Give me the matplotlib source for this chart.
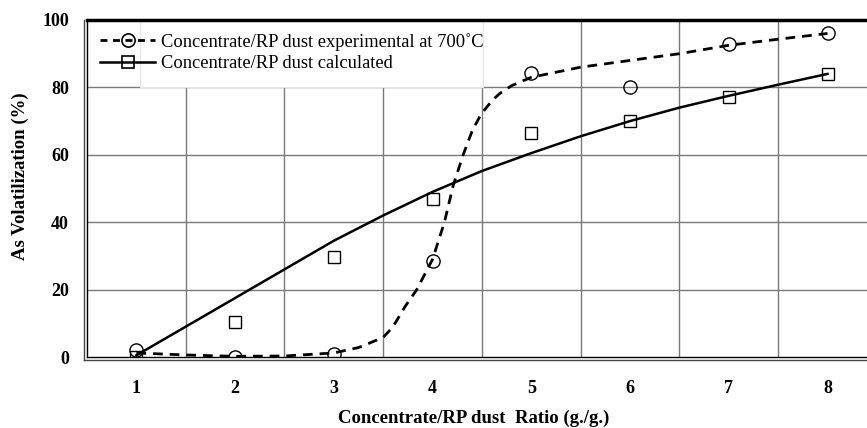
import matplotlib
matplotlib.use("Agg")
import matplotlib.pyplot as plt
from matplotlib.patches import Rectangle
from matplotlib.lines import Line2D

plt.rcParams['font.family'] = ['Liberation Serif', 'DejaVu Serif']

# measured points
ratio = [1, 2, 3, 4, 5, 6, 7, 8]
experimental = [2.0, 0.0, 0.8, 28.4, 84.2, 80.0, 92.8, 96.0]
calculated = [0.0, 10.4, 29.6, 47.0, 66.6, 70.1, 77.2, 84.0]

# fitted curves
exp_curve_x = [1, 1.5, 2, 2.5, 3, 3.25, 3.5, 3.6, 3.72, 3.84, 4.0, 4.12, 4.21,
               4.31, 4.4, 4.49, 4.6, 4.68, 4.8, 5.0, 5.5, 6, 6.5, 7, 7.5, 8]
exp_curve_y = [1.2, 0.6, 0.2, 0.3, 1.2, 2.8, 5.8, 9.0, 14.9, 20.0, 29.0, 40.0, 51.0,
               60.0, 67.0, 72.0, 76.0, 78.2, 80.5, 83.0, 86.0, 88.0, 90.0, 92.5, 94.3, 96.0]
calc_curve_x = [1, 1.5, 2, 2.5, 3, 3.5, 4, 4.5, 5, 5.5, 6, 6.5, 7, 7.5, 8]
calc_curve_y = [0.5, 9.0, 17.5, 26.0, 34.5, 42.0, 49.0, 55.2, 60.5, 65.5, 70.0, 74.0, 77.5, 80.8, 84.0]

xticks = [1, 2, 3, 4, 5, 6, 7, 8]
yticks = [0, 20, 40, 60, 80, 100]
label_exp = "Concentrate/RP dust experimental at 700\u02daC"
label_calc = "Concentrate/RP dust calculated"
xlabel = "Concentrate/RP dust  Ratio (g./g.)"
ylabel = "As Volatilization (%)"

fig = plt.figure(figsize=(8.67, 4.28), dpi=100)
ax = fig.add_axes([87/867, 1 - 357/428, 1 - 87/867, 337/428])
ax.set_xlim(0.5, 8.4)
ax.set_ylim(0, 100)

# grid
for gx in [1.5, 2.5, 3.5, 4.5, 5.5, 6.5, 7.5]:
    ax.axvline(gx, color='#7a7a7a', lw=1.0, zorder=1)
for gy in [20, 40, 60, 80]:
    ax.axhline(gy, color='#7a7a7a', lw=1.0, zorder=1)

# legend background box
ax.add_patch(Rectangle(((140-87)/780, 0.8), (483-140)/780, 0.2, transform=ax.transAxes,
                       facecolor='white', edgecolor='#e6e6e6', lw=0.8, zorder=2))

ax.plot(exp_curve_x, exp_curve_y, color='black', lw=2.0, ls=(0, (3.5, 2.5)), zorder=3)
ax.plot(calc_curve_x, calc_curve_y, color='black', lw=1.8, ls='-', zorder=3)
ax.plot(ratio, experimental, ls='none', marker='o', ms=9.5, mfc='none', mec='black',
        mew=1.0, zorder=4)
ax.plot(ratio, calculated, ls='none', marker='s', ms=9.0, mfc='none', mec='black',
        mew=1.0, zorder=4)

h1 = Line2D([], [], color='black', lw=2.0, ls=(0, (2.5, 2.0)), marker='o', ms=9.5,
            mfc='none', mec='black', mew=1.2)
h2 = Line2D([], [], color='black', lw=1.8, ls='-', marker='s', ms=9.0,
            mfc='none', mec='black', mew=1.2)
leg = ax.legend([h1, h2], [label_exp, label_calc], loc='upper left',
                bbox_to_anchor=(0.0, 1.0), frameon=False, fontsize=13.3,
                handlelength=3.0, handletextpad=0.3, labelspacing=0.25,
                borderaxespad=0.3, borderpad=0.4)
leg.set_zorder(5)

ax.set_xticks(xticks)
ax.set_xticklabels([str(v) for v in xticks], fontsize=13, fontweight='bold')
ax.set_yticks(yticks)
ax.set_yticklabels([str(v) for v in yticks], fontsize=13, fontweight='bold')
ax.tick_params(axis='x', length=0, pad=16.5)
ax.tick_params(axis='y', length=0, pad=13)

fig.text(474/867, 1 - 418/428, xlabel, fontsize=13.5, fontweight='bold',
         ha='center', va='center')
fig.text(20/867, 1 - 176/428, ylabel, fontsize=13.5, fontweight='bold',
         ha='center', va='center', rotation=90)

for s in ['left', 'bottom']:
    ax.spines[s].set_linewidth(1.0)
ax.spines['top'].set_linewidth(2.5)
ax.spines['right'].set_visible(False)

# double lines on left and bottom
fig.add_artist(Line2D([84/867, 84/867], [1 - 360/428, 1 - 20/428], color='#444444', lw=1.0))
fig.add_artist(Line2D([84/867, 1.0], [1 - 360/428, 1 - 360/428], color='#444444', lw=1.0))

fig.savefig("out.png", dpi=100)
